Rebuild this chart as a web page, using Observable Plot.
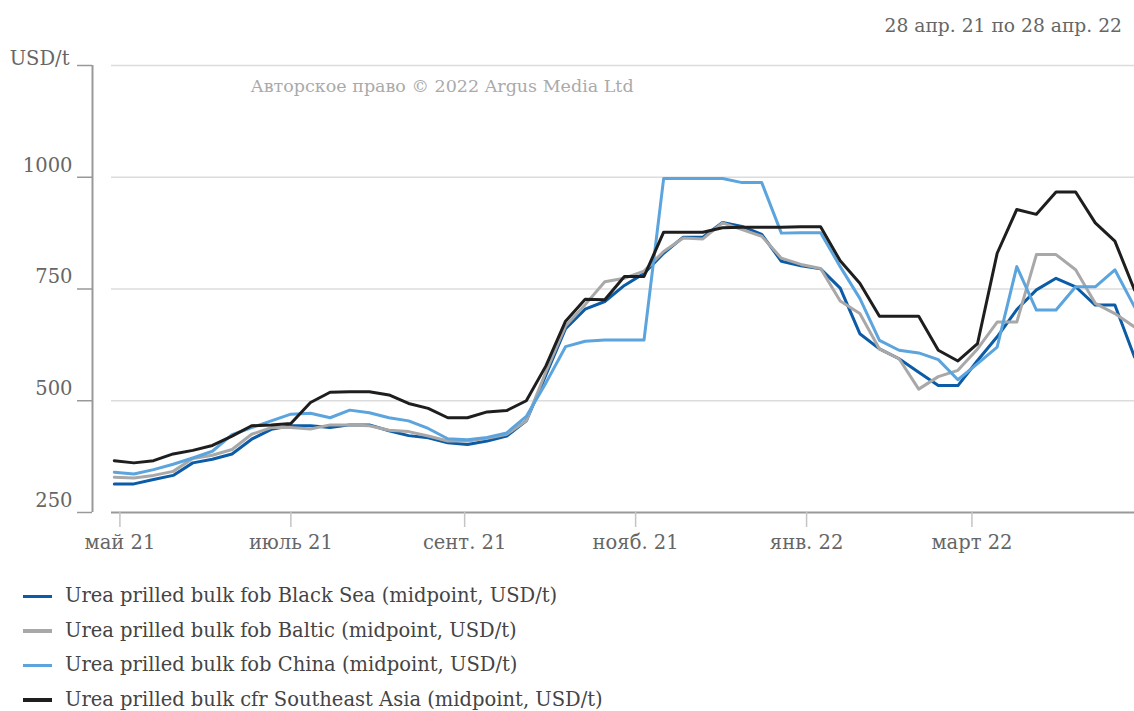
<!DOCTYPE html>
<html>
<head>
<meta charset="utf-8">
<script src="https://cdn.jsdelivr.net/npm/d3@7"></script>
<script src="https://cdn.jsdelivr.net/npm/@observablehq/plot@0.6"></script>
<style>
  html, body { margin: 0; padding: 0; background: #fff; }
  body { width: 1134px; height: 711px; overflow: hidden; font-family: "DejaVu Serif", serif; }
  #head { position: relative; height: 40px; }
  #head span { position: absolute; right: 12px; top: 13px; font-size: 18.7px; line-height: 26px; color: #666; }
  #legend { padding-top: 14px; }
  .item { height: 34.5px; line-height: 34.5px; font-size: 19.5px; color: #444; white-space: nowrap; }
  .sw { display: inline-block; width: 29px; height: 3.5px; margin-left: 23px; margin-right: 13px; vertical-align: middle; }
</style>
</head>
<body>
<div id="head"><span>28 апр. 21 по 28 апр. 22</span></div>
<div id="chart"></div>
<div id="legend"></div>
<script>
const dates = [
  "2021-04-29","2021-05-06","2021-05-13","2021-05-20","2021-05-27","2021-06-03","2021-06-10","2021-06-17","2021-06-24",
  "2021-07-01","2021-07-08","2021-07-15","2021-07-22","2021-07-29","2021-08-05","2021-08-12","2021-08-19","2021-08-26",
  "2021-09-02","2021-09-09","2021-09-16","2021-09-23","2021-09-30","2021-10-07","2021-10-14","2021-10-21","2021-10-28",
  "2021-11-04","2021-11-11","2021-11-18","2021-11-25","2021-12-02","2021-12-09","2021-12-16","2021-12-23","2021-12-30",
  "2022-01-06","2022-01-13","2022-01-20","2022-01-27","2022-02-03","2022-02-10","2022-02-17","2022-02-24",
  "2022-03-03","2022-03-10","2022-03-17","2022-03-24","2022-03-31","2022-04-07","2022-04-14","2022-04-21","2022-04-28"
];
const blackSea = [314,314,324,333,361,369,381,414,436,444,444,440,446,446,433,422,417,406,402,410,421,455,558,661,705,722,758,785,830,866,866,899,890,872,812,802,795,752,650,616,594,564,534,534,590,643,704,748,774,755,714,714,598];
const baltic   = [329,327,333,342,371,378,391,425,440,440,437,446,446,444,434,431,421,410,410,416,425,455,565,667,715,766,774,790,834,864,862,898,883,868,819,805,796,723,695,616,594,526,554,568,616,676,676,827,827,793,718,695,665];
const china    = [340,336,346,358,372,387,424,440,455,470,472,462,479,473,462,455,438,415,413,418,428,465,540,621,633,636,636,636,997,997,997,997,988,988,875,876,876,800,729,635,613,607,592,547,583,620,800,703,703,755,755,793,710];
const seAsia   = [366,361,366,381,389,400,421,444,446,449,496,519,520,520,513,494,483,462,462,475,478,500,578,678,727,726,778,778,877,877,877,887,888,888,888,889,889,813,763,689,689,689,613,589,628,830,928,917,967,967,898,857,748];

const seriesNames = [
  "Urea prilled bulk fob Black Sea (midpoint, USD/t)",
  "Urea prilled bulk fob Baltic (midpoint, USD/t)",
  "Urea prilled bulk fob China (midpoint, USD/t)",
  "Urea prilled bulk cfr Southeast Asia (midpoint, USD/t)"
];
const seriesColors = ["#0b5ba6", "#a8a8a8", "#5ba4dd", "#1e1e1e"];
const yTicks = [250, 500, 750, 1000, 1250];
const yTopLabel = "USD/t";
const xTickDates = ["2021-05-01","2021-07-01","2021-09-01","2021-11-01","2022-01-01","2022-03-01"];
const xTickLabels = ["май 21", "июль 21", "сент. 21", "нояб. 21", "янв. 22", "март 22"];
const xDomain = ["2021-04-28", "2022-04-28"];
const copyright = "Авторское право © 2022 Argus Media Ltd";

const allSeries = [blackSea, baltic, china, seAsia];
const rows = [];
allSeries.forEach((vals, s) => vals.forEach((v, i) => rows.push({date: new Date(dates[i]), value: v, series: seriesNames[s]})));
const tickDates = xTickDates.map(d => new Date(d));
const labelByTime = new Map(tickDates.map((d, i) => [+d, xTickLabels[i]]));
const domainStart = new Date(xDomain[0]);
const yTop = yTicks[yTicks.length - 1];

const chart = Plot.plot({
  width: 1134,
  height: 525,
  marginLeft: 111,
  marginRight: 0,
  marginTop: 25,
  marginBottom: 53,
  style: {fontFamily: "DejaVu Serif", fontSize: "19.5px", color: "#666", background: "#fff"},
  x: {type: "utc", domain: xDomain.map(d => new Date(d)), label: null},
  y: {domain: [yTicks[0], yTop], label: null},
  color: {domain: seriesNames, range: seriesColors},
  marks: [
    Plot.gridY(yTicks.slice(1), {stroke: "#dcdcdc", strokeOpacity: 1, strokeWidth: 1.5}),
    Plot.ruleX([domainStart], {y1: yTicks[0], y2: yTop, dx: -19, stroke: "#999", strokeWidth: 2}),
    Plot.axisY(yTicks, {tickSize: 15, dx: -19, tickFormat: () => "", label: null, stroke: "#999", strokeWidth: 1.5}),
    Plot.axisY(yTicks.slice(0, -1), {tickSize: 0, tickPadding: 39, dy: -12, label: null, fill: "#666", fontSize: 19.5,
      tickFormat: d => String(d)}),
    Plot.axisY([yTop], {tickSize: 0, tickPadding: 42, dy: -7, label: null, fill: "#666", fontSize: 19.5,
      tickFormat: () => yTopLabel}),
    Plot.ruleY([yTicks[0]], {stroke: "#999", strokeWidth: 2}),
    Plot.axisX(tickDates, {tickSize: 15, tickPadding: 8, label: null, stroke: "#c4c4c4", strokeWidth: 1.5, fill: "#666", fontSize: 19.5,
      tickFormat: d => labelByTime.get(+d)}),
    Plot.text([copyright], {frameAnchor: "top-left", dx: 139, dy: 21, textAnchor: "start", lineAnchor: "middle", fill: "#aaa", fontSize: 17.5}),
    Plot.line(rows, {x: "date", y: "value", z: "series", stroke: "series", strokeWidth: 3, strokeLinejoin: "round"})
  ]
});
document.getElementById("chart").appendChild(chart);

const legend = document.getElementById("legend");
seriesNames.forEach((name, i) => {
  const div = document.createElement("div");
  div.className = "item";
  const sw = document.createElement("span");
  sw.className = "sw";
  sw.style.background = seriesColors[i];
  div.appendChild(sw);
  div.appendChild(document.createTextNode(name));
  legend.appendChild(div);
});
</script>
</body>
</html>
